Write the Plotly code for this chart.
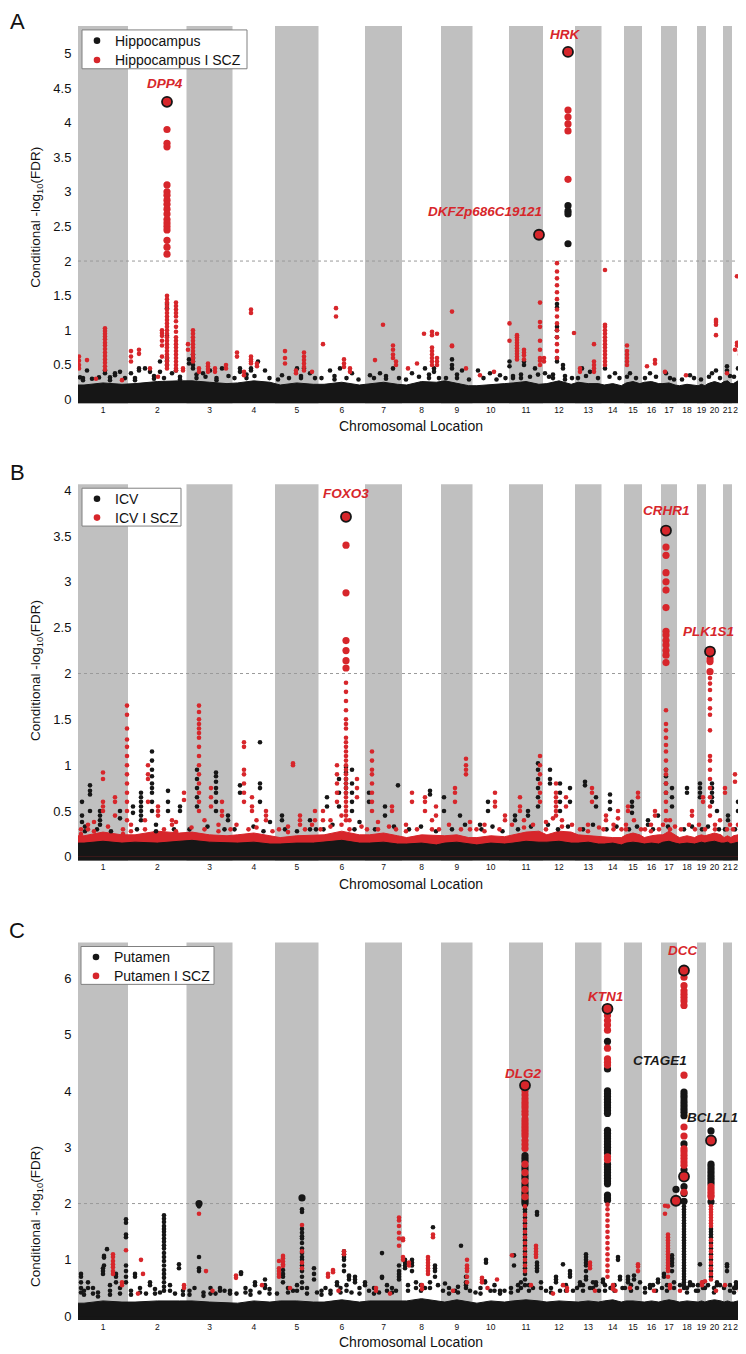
import plotly.graph_objects as go

# ---------------- data ----------------
chromosomes = [str(c) for c in range(1, 23)]
# relative chromosome lengths along the genome axis (index units)
chrom_len = [50, 58.5, 46, 42.5, 43.5, 46.5, 37, 39, 31.5, 36.5, 34, 32,
             26.5, 22.5, 18, 19, 16, 20, 9, 17, 9, 12]
genome_end = 667  # axis end (includes trailing unlabeled segment)

ticks_A = [0, 0.5, 1, 1.5, 2, 2.5, 3, 3.5, 4, 4.5, 5]
ticks_B = [0, 0.5, 1, 1.5, 2, 2.5, 3, 3.5, 4]
ticks_C = [0, 1, 2, 3, 4, 5, 6]

# dense background of non-significant SNPs: height of solid band, 3 samples per chromosome
base_black_A = [0.21, 0.24, 0.22, 0.23, 0.26, 0.27, 0.27, 0.25, 0.23, 0.24, 0.27, 0.25,
                0.21, 0.24, 0.22, 0.22, 0.25, 0.21, 0.23, 0.25, 0.22, 0.21, 0.26, 0.25,
                0.27, 0.23, 0.20, 0.20, 0.22, 0.23, 0.24, 0.26, 0.22, 0.23, 0.27, 0.22,
                0.25, 0.23, 0.23, 0.21, 0.23, 0.20, 0.24, 0.26, 0.23, 0.25, 0.26, 0.23,
                0.23, 0.24, 0.21, 0.20, 0.22, 0.20, 0.20, 0.22, 0.20, 0.23, 0.26, 0.23,
                0.26, 0.27, 0.23, 0.23, 0.27, 0.23]
base_red_B = [0.23, 0.27, 0.24, 0.24, 0.28, 0.26, 0.27, 0.24, 0.23, 0.24, 0.26, 0.23,
              0.21, 0.23, 0.24, 0.24, 0.28, 0.24, 0.24, 0.26, 0.23, 0.21, 0.24, 0.23,
              0.23, 0.24, 0.21, 0.21, 0.23, 0.22, 0.24, 0.27, 0.28, 0.24, 0.28, 0.27,
              0.24, 0.23, 0.22, 0.22, 0.21, 0.21, 0.24, 0.26, 0.24, 0.21, 0.23, 0.24,
              0.24, 0.28, 0.24, 0.21, 0.23, 0.21, 0.23, 0.24, 0.23, 0.24, 0.26, 0.24,
              0.21, 0.23, 0.21, 0.23, 0.24, 0.22]
base_black_B = [0.15, 0.17, 0.15, 0.16, 0.15, 0.17, 0.18, 0.16, 0.15, 0.15, 0.16, 0.14,
                0.14, 0.15, 0.15, 0.16, 0.18, 0.15, 0.15, 0.16, 0.14, 0.14, 0.15, 0.13,
                0.15, 0.16, 0.14, 0.13, 0.15, 0.14, 0.15, 0.17, 0.16, 0.16, 0.17, 0.15,
                0.15, 0.16, 0.14, 0.14, 0.15, 0.13, 0.15, 0.16, 0.15, 0.14, 0.15, 0.14,
                0.16, 0.17, 0.15, 0.14, 0.15, 0.14, 0.15, 0.16, 0.15, 0.16, 0.17, 0.15,
                0.15, 0.16, 0.14, 0.15, 0.16, 0.15]
base_black_C = [0.23, 0.27, 0.25, 0.25, 0.27, 0.27, 0.27, 0.25, 0.23, 0.23, 0.27, 0.25,
                0.27, 0.27, 0.25, 0.25, 0.29, 0.25, 0.27, 0.27, 0.27, 0.27, 0.31, 0.27,
                0.25, 0.29, 0.25, 0.23, 0.27, 0.25, 0.27, 0.29, 0.27, 0.25, 0.27, 0.25,
                0.25, 0.27, 0.25, 0.27, 0.29, 0.25, 0.27, 0.27, 0.25, 0.25, 0.27, 0.25,
                0.27, 0.29, 0.27, 0.25, 0.27, 0.25, 0.25, 0.27, 0.25, 0.27, 0.29, 0.27,
                0.25, 0.27, 0.25, 0.25, 0.27, 0.25]

# SNP columns: (chromosome, position within chromosome, [conditional -log10 FDR values])
red_A = [
    (1, 1, [0.62, 0.56, 0.5, 0.45]), (1, 9, [0.57]), (1, 18, [0.3]),
    (1, 27, [1.03, 0.99, 0.95, 0.91, 0.87, 0.82, 0.78, 0.73, 0.68, 0.63, 0.58, 0.53, 0.48, 0.43]),
    (1, 44, [0.28]),
    (2, 3, [0.7, 0.62, 0.55]), (2, 11, [0.72, 0.66]), (2, 22, [0.45]), (2, 30, [0.33]),
    (2, 34, [1.0, 0.96, 0.92, 0.85, 0.78, 0.62]),
    (2, 39, [3.9, 3.7, 3.65, 3.1, 3.0, 2.95, 2.88, 2.82, 2.75, 2.68, 2.6, 2.55, 2.5, 2.45, 2.3,
             2.2, 2.1, 1.5, 1.45, 1.4, 1.35, 1.3, 1.25, 1.2, 1.15, 1.1, 1.05, 1.0, 0.95, 0.9,
             0.85, 0.8, 0.75, 0.7, 0.65, 0.6, 0.55, 0.5, 0.45]),
    (2, 48, [1.4, 1.35, 1.3, 1.25, 1.2, 1.13, 1.05, 0.98, 0.9, 0.85, 0.8, 0.75, 0.7, 0.65,
             0.6, 0.55, 0.5, 0.45, 0.42]),
    (2, 55, [0.45, 0.42]),
    (3, 1.5, [0.8, 0.72]), (3, 6.5, [1.0, 0.95, 0.9, 0.85, 0.8, 0.75, 0.7, 0.65, 0.6, 0.55]),
    (3, 12.5, [0.45, 0.4]), (3, 21.5, [0.52, 0.48, 0.44, 0.4]), (3, 28.5, [0.45, 0.4]),
    (3, 39.5, [0.5, 0.45]),
    (4, 4.5, [0.68, 0.62]), (4, 11.5, [0.4, 0.35]), (4, 18.5, [1.3, 1.25, 0.62, 0.58, 0.55, 0.52]),
    (4, 24.5, [0.52, 0.48]),
    (5, 10, [0.7, 0.6, 0.52]), (5, 21, [0.42, 0.38]), (5, 29, [0.68, 0.62, 0.57, 0.52, 0.47, 0.42]),
    (5, 37, [0.4]),
    (6, 4.5, [0.8]), (6, 17.5, [1.32, 1.2]), (6, 25.5, [0.58, 0.52, 0.47]), (6, 31.5, [0.45, 0.4]),
    (7, 10, [0.57]), (7, 18, [1.08]), (7, 28, [0.78, 0.72, 0.65, 0.6]), (7, 31, [0.55, 0.5]),
    (8, 6, [0.45]), (8, 15, [0.52]), (8, 22, [0.95]),
    (8, 30, [0.98, 0.93, 0.75, 0.7, 0.65, 0.6, 0.55, 0.5]), (8, 35, [0.95, 0.6, 0.55, 0.5]),
    (9, 11, [1.27, 0.78, 0.77]), (9, 25, [0.45]),
    (10, 7.5, [0.35]), (10, 21.5, [0.4]),
    (11, 0.5, [1.1, 0.85]), (11, 8, [0.93, 0.9, 0.86, 0.82, 0.78, 0.74, 0.7, 0.66, 0.62, 0.58]),
    (11, 15, [0.72, 0.68, 0.64, 0.58]), (11, 31, [1.4, 1.12, 1.05, 0.85, 0.72, 0.6, 0.56, 0.5]),
    (12, 1, [0.6, 0.55]),
    (12, 14, [1.97, 1.85, 1.75, 1.65, 1.55, 1.45, 1.3, 1.2, 1.1, 1.0, 0.9, 0.8, 0.7, 0.6]),
    (12, 25, [4.18, 4.08, 3.98, 3.88, 3.18]), (12, 31, [0.96]),
    (13, 5, [0.45, 0.4]), (13, 19, [0.8, 0.55, 0.5, 0.45, 0.4]),
    (14, 3.5, [1.87, 1.08, 1.05, 1.0, 0.95, 0.9, 0.85, 0.8, 0.75, 0.7, 0.65, 0.6, 0.55, 0.5]),
    (15, 3, [0.78, 0.7, 0.65, 0.6, 0.55, 0.5]),
    (16, 5, [0.48]), (16, 13, [0.57, 0.52]), (17, 4, [0.4]), (18, 9, [0.35]),
    (20, 10, [1.15, 1.12, 1.08, 0.93]), (21, 4, [0.38]),
    (22, 3, [0.72]), (22, 5, [1.78, 0.82, 0.78]), (22, 8, [0.76, 0.7, 0.65]),
]
black_A = [
    (1, 2, [0.32]), (1, 9, [0.42]), (1, 21, [0.32]), (1, 27, [0.42, 0.38]), (1, 37, [0.38, 0.35]),
    (1, 42, [0.4]),
    (2, 3, [0.38]), (2, 11, [0.45, 0.42]), (2, 17, [0.45]), (2, 22, [0.4]), (2, 32, [0.55, 0.4]),
    (2, 39, [1.38, 1.32, 0.92, 0.6, 0.56, 0.5]), (2, 44, [0.38]), (2, 48, [0.42]),
    (3, 2.5, [0.58, 0.52]), (3, 6.5, [0.65, 0.6, 0.55, 0.5, 0.45]), (3, 16.5, [0.38]),
    (3, 23.5, [0.42]), (3, 35.5, [0.45]),
    (4, 7.5, [0.45, 0.4]), (4, 18.5, [0.45, 0.42]), (4, 25.5, [0.55]), (4, 32.5, [0.42]),
    (5, 7, [0.35]), (5, 22, [0.45]), (5, 29, [0.45]), (5, 35, [0.38]),
    (6, 11.5, [0.42]), (6, 21.5, [0.45]), (6, 33.5, [0.38]),
    (7, 5, [0.35]), (7, 15, [0.38]), (7, 28, [0.45]),
    (8, 10, [0.38]), (8, 23, [0.45]), (8, 32, [0.45, 0.4]),
    (9, 11, [0.58, 0.5, 0.45]), (9, 21, [0.42]),
    (10, 5.5, [0.42]), (10, 17.5, [0.38]), (10, 27.5, [0.35]),
    (11, 0.5, [0.55, 0.48]), (11, 15, [0.55, 0.5]), (11, 26, [0.45]),
    (12, 2, [0.38]), (12, 14, [1.38, 1.33, 1.05, 1.0, 0.9, 0.6, 0.55]), (12, 20, [0.5, 0.45]),
    (12, 25, [2.8, 2.72, 2.68, 2.25]),
    (13, 7, [0.45]), (13, 15, [0.4]), (14, 3.5, [0.45]), (14, 13.5, [0.38]),
    (15, 6, [0.38]), (16, 8, [0.38]), (17, 5, [0.38]), (18, 13, [0.35]),
    (20, 6, [0.38]), (20, 10, [0.42]), (21, 4, [0.48, 0.42]), (22, 6, [0.45]),
    # low-level scatter just above the dense band
    (1, 5, [0.31, 0.28]), (1, 14, [0.3]), (1, 32, [0.32, 0.28]), (1, 47, [0.31]),
    (2, 7, [0.31, 0.28]), (2, 26, [0.34, 0.3]), (2, 36, [0.31]), (2, 52, [0.33, 0.29]),
    (3, 10, [0.36, 0.31]), (3, 19, [0.33]), (3, 30, [0.31, 0.28]), (3, 42, [0.34]),
    (4, 2, [0.31]), (4, 14, [0.36, 0.31]), (4, 22, [0.34]), (4, 37, [0.31]),
    (5, 3, [0.29]), (5, 14, [0.31]), (5, 26, [0.34, 0.31]), (5, 40, [0.31]),
    (6, 3, [0.31]), (6, 16, [0.34, 0.29]), (6, 28, [0.31]), (6, 40, [0.29]),
    (7, 9, [0.31]), (7, 21, [0.34, 0.3]), (7, 34, [0.31]),
    (8, 4, [0.29]), (8, 17, [0.33]), (8, 27, [0.36, 0.31]), (8, 37, [0.31]),
    (9, 5, [0.31]), (9, 16, [0.36, 0.31]), (9, 28, [0.29]),
    (10, 11, [0.31]), (10, 24, [0.29]), (10, 33, [0.31]),
    (11, 4, [0.34, 0.31]), (11, 12, [0.36, 0.31]), (11, 21, [0.33]), (11, 29, [0.36]),
    (12, 6, [0.33]), (12, 10, [0.36, 0.31]), (12, 22, [0.34, 0.29]), (12, 29, [0.31]),
    (13, 3, [0.31]), (13, 11, [0.34]), (13, 23, [0.31]),
    (14, 8, [0.33]), (14, 18, [0.31]),
    (15, 3, [0.33]), (15, 12, [0.31]), (16, 3, [0.31]), (16, 14, [0.33]), (17, 9, [0.31]),
    (17, 13, [0.29]), (18, 5, [0.29]), (18, 17, [0.31]), (19, 4, [0.29]), (20, 3, [0.33]),
    (20, 14, [0.31]), (21, 7, [0.34]), (22, 2, [0.33]), (22, 9, [0.36]),
]
lead_A = [("DPP4", 2, 39, 4.30), ("DKFZp686C19121", 11, 30, 2.38), ("HRK", 12, 25, 5.02)]

red_B = [
    (1, 10, [0.35, 0.3]), (1, 25, [0.92, 0.85, 0.6, 0.55, 0.5]), (1, 37, [0.65, 0.6, 0.45]),
    (1, 49, [1.65, 1.55, 1.4, 1.28, 1.2, 1.1, 1.0, 0.9, 0.8, 0.7, 0.6, 0.5, 0.4]),
    (2, 20, [1.0, 0.9, 0.85, 0.6]), (2, 30, [0.55, 0.5, 0.45]), (2, 44, [0.4, 0.35]),
    (2, 56, [0.7, 0.62]),
    (3, 12.5, [1.65, 1.58, 1.5, 1.45, 1.4, 1.35, 1.3, 1.2, 1.1, 1.0, 0.9, 0.8, 0.7, 0.6, 0.5]),
    (3, 24.5, [0.75, 0.65, 0.55]), (3, 35.5, [0.6, 0.5, 0.45]),
    (4, 11.5, [1.25, 1.2, 0.95, 0.9, 0.8, 0.7, 0.6]), (4, 19.5, [0.65, 0.55, 0.5]),
    (4, 33.5, [0.5, 0.45, 0.4]),
    (5, 18, [1.02, 1.0]), (5, 25, [0.45, 0.4, 0.35]), (5, 40, [0.5, 0.4]),
    (6, 4.5, [0.5, 0.4]), (6, 18.5, [1.0, 0.9, 0.8, 0.7, 0.6]),
    (6, 27.5, [3.4, 2.88, 2.36, 2.25, 2.14, 2.06, 1.9, 1.8, 1.7, 1.6, 1.5, 1.45, 1.4, 1.3, 1.25,
               1.2, 1.15, 1.1, 1.05, 1.0, 0.95, 0.9, 0.85, 0.8, 0.75, 0.7, 0.65, 0.6, 0.55, 0.5,
               0.45, 0.4]),
    (6, 38.5, [0.85, 0.75, 0.65]),
    (7, 7, [1.15, 1.05, 0.95, 0.9, 0.8, 0.7, 0.6, 0.5]), (7, 27, [0.55, 0.5]),
    (8, 10, [0.7, 0.6]), (8, 23, [0.65, 0.6, 0.5]), (8, 34, [0.55, 0.45]),
    (9, 14, [0.75, 0.7, 0.6]), (9, 25, [1.07, 1.0, 0.95, 0.9]),
    (10, 22.5, [0.7, 0.6, 0.55]), (10, 32.5, [0.45, 0.4]),
    (11, 11, [0.65, 0.55, 0.5]), (11, 31, [1.1, 1.0, 0.9, 0.8, 0.7, 0.6]),
    (12, 13, [0.8, 0.7, 0.65, 0.6, 0.55, 0.5, 0.45]), (12, 23, [0.65, 0.55]),
    (13, 17, [0.75, 0.7, 0.6]), (14, 4.5, [0.45, 0.4]), (14, 16.5, [0.5, 0.42]),
    (15, 4, [0.55, 0.5]), (15, 14, [0.7, 0.65]), (16, 13, [0.5, 0.45]),
    (17, 5, [3.38, 3.29, 3.1, 3.0, 2.91, 2.72, 2.46, 2.42, 2.36, 2.31, 2.25, 2.2, 2.12, 1.6, 1.45,
             1.38, 1.3, 1.22, 1.15, 1.05, 0.95, 0.9, 0.8, 0.7, 0.6, 0.5, 0.4]),
    (18, 15, [0.5, 0.45]), (19, 6, [0.65, 0.6]),
    (20, 4, [2.16, 2.13, 2.02, 1.95, 1.89, 1.82, 1.72, 1.62, 1.55, 1.38, 1.1, 1.05, 0.95, 0.85,
             0.75, 0.65, 0.55, 0.45]),
    (21, 2, [0.75, 0.7]), (22, 3, [0.9, 0.82]), (22, 9, [0.45, 0.4]),
    # low-level scatter
    (1, 3, [0.3, 0.25]), (1, 16, [0.38, 0.28]), (1, 30, [0.33]), (1, 45, [0.3, 0.25]),
    (2, 3, [0.35, 0.28]), (2, 17, [0.4, 0.3]), (2, 36, [0.3]), (2, 48, [0.38, 0.28]),
    (3, 5, [0.32]), (3, 18, [0.4, 0.3]), (3, 32, [0.35, 0.28]), (3, 44, [0.3]),
    (4, 4, [0.35]), (4, 16, [0.3]), (4, 24, [0.4, 0.32]), (4, 40, [0.28]),
    (5, 4, [0.3]), (5, 13, [0.33, 0.27]), (5, 30, [0.3]), (5, 37, [0.35]),
    (6, 2, [0.3]), (6, 12, [0.4, 0.33]), (6, 23, [0.45, 0.35]), (6, 31, [0.4, 0.3]), (6, 43, [0.33]),
    (7, 2, [0.3]), (7, 13, [0.38, 0.3]), (7, 24, [0.33]), (7, 31, [0.3]),
    (8, 4, [0.35, 0.28]), (8, 15, [0.3]), (8, 30, [0.4, 0.3]), (8, 37, [0.3]),
    (9, 8, [0.35]), (9, 20, [0.3]), (9, 29, [0.38, 0.3]),
    (10, 4, [0.3]), (10, 12, [0.35, 0.28]), (10, 27, [0.3]),
    (11, 3, [0.35]), (11, 15, [0.4, 0.32]), (11, 24, [0.35]),
    (12, 3, [0.38, 0.3]), (12, 10, [0.42]), (12, 19, [0.4, 0.33]), (12, 29, [0.35]),
    (13, 5, [0.3]), (13, 13, [0.35, 0.28]), (13, 24, [0.32]),
    (14, 2, [0.3]), (14, 12, [0.35, 0.3]), (14, 20, [0.3]),
    (15, 2, [0.35, 0.3]), (15, 10, [0.4]), (15, 17, [0.3]),
    (16, 3, [0.3]), (16, 9, [0.35, 0.28]), (16, 17, [0.3]),
    (17, 2, [0.35]), (17, 9, [0.4, 0.3]), (17, 14, [0.33]),
    (18, 4, [0.3]), (18, 12, [0.35]), (18, 18, [0.3]),
    (19, 2, [0.35]), (19, 8, [0.3]), (20, 9, [0.35, 0.3]), (20, 14, [0.4]),
    (21, 4, [0.3]), (21, 7, [0.35]), (22, 1, [0.3]), (22, 6, [0.35]), (22, 10, [0.3]),
]
black_B = [
    (1, 4, [0.6, 0.45, 0.38]), (1, 12, [0.78, 0.72, 0.68, 0.5]), (1, 22, [0.5, 0.45, 0.4, 0.35]),
    (1, 42, [0.5, 0.42]),
    (2, 5, [0.55, 0.48]), (2, 13, [0.7, 0.65, 0.6, 0.55, 0.5, 0.45, 0.4]),
    (2, 24, [1.15, 1.05, 0.95, 0.88, 0.8, 0.75, 0.7, 0.6, 0.5]), (2, 40, [0.72, 0.6, 0.5]),
    (2, 52, [0.55, 0.5]),
    (3, 10.5, [0.95, 0.85, 0.75, 0.65, 0.55]), (3, 29.5, [0.92, 0.88, 0.82, 0.75, 0.7, 0.6, 0.5]),
    (3, 41.5, [0.45, 0.4]),
    (4, 7.5, [0.78, 0.7]), (4, 27.5, [1.25, 0.8, 0.75, 0.6]), (4, 37.5, [0.38]),
    (5, 7, [0.45, 0.4]), (5, 35, [0.4, 0.3]),
    (6, 8.5, [0.65, 0.55]), (6, 20.5, [0.85, 0.7, 0.55]), (6, 27.5, [0.98, 0.92, 0.85, 0.8, 0.75, 0.7]),
    (6, 33.5, [0.95, 0.8, 0.7, 0.6, 0.5]),
    (7, 4, [0.7, 0.6]), (7, 20, [0.55, 0.45]), (7, 33, [0.78]),
    (8, 28, [0.72, 0.68]), (9, 3, [0.65, 0.5]), (9, 19, [0.45]),
    (10, 7.5, [0.35]), (10, 15.5, [0.6, 0.5]),
    (11, 6, [0.45, 0.4]), (11, 19, [0.5, 0.45]), (11, 29, [1.02, 0.95, 0.85, 0.75, 0.65, 0.55]),
    (12, 7, [0.95, 0.85, 0.8]), (12, 17, [0.8, 0.7, 0.6, 0.5]), (12, 27, [0.75, 0.6]),
    (13, 10, [0.82, 0.78]), (13, 21, [0.65, 0.55]), (14, 8.5, [0.68, 0.6, 0.52]),
    (15, 8, [0.6, 0.55, 0.48]), (16, 6, [0.4, 0.35]), (16, 16, [0.45]),
    (17, 5, [0.95, 0.88, 0.8, 0.7]), (17, 11, [0.75, 0.65, 0.55]),
    (18, 10, [0.75, 0.7]), (19, 3, [0.8, 0.75, 0.7, 0.65]),
    (20, 6, [0.8, 0.75, 0.7, 0.65, 0.6]), (20, 11, [0.5]),
    (21, 5, [0.45, 0.4]), (22, 6, [0.6, 0.5]),
    # low-level scatter
    (1, 7, [0.33, 0.28]), (1, 19, [0.3]), (1, 33, [0.28]),
    (2, 9, [0.3]), (2, 28, [0.35, 0.28]), (2, 46, [0.3]),
    (3, 3, [0.3]), (3, 21, [0.33]), (3, 38, [0.3]),
    (4, 2, [0.3]), (4, 21, [0.33]), (4, 31, [0.28]),
    (5, 10, [0.3]), (5, 22, [0.28]), (5, 41, [0.3]),
    (6, 5, [0.3]), (6, 14, [0.35]), (6, 36, [0.3]), (6, 41, [0.38]),
    (7, 10, [0.3]), (7, 29, [0.33]),
    (8, 7, [0.3]), (8, 19, [0.33]), (8, 34, [0.28]),
    (9, 11, [0.3]), (9, 24, [0.35]),
    (10, 9, [0.3]), (10, 20, [0.33]), (10, 30, [0.28]),
    (11, 9, [0.3]), (11, 22, [0.33]),
    (12, 5, [0.35]), (12, 15, [0.3]), (12, 25, [0.33]),
    (13, 8, [0.3]), (13, 18, [0.35]), (14, 5, [0.3]), (14, 15, [0.33]),
    (15, 5, [0.3]), (15, 13, [0.33]), (16, 11, [0.3]), (17, 7, [0.33]), (18, 7, [0.3]),
    (18, 15, [0.33]), (19, 5, [0.3]), (20, 2, [0.33]), (20, 13, [0.3]), (21, 2, [0.3]),
    (22, 3, [0.3]), (22, 8, [0.33]),
]
lead_B = [("FOXO3", 6, 27.5, 3.71), ("CRHR1", 17, 5, 3.56), ("PLK1S1", 20, 4, 2.24)]

red_C = [
    (1, 35, [1.1, 1.05, 0.98, 0.92, 0.87, 0.8, 0.75]), (1, 44, [0.6, 0.55]), (1, 48, [1.17]),
    (2, 13, [1.0]), (2, 15, [0.75]), (2, 56, [0.55, 0.5]),
    (3, 12.5, [1.82]), (3, 19.5, [0.8]),
    (4, 3.5, [0.72, 0.68]), (4, 29.5, [0.55]),
    (5, 4, [0.98, 0.85, 0.8, 0.75, 0.7]), (5, 8, [1.07, 1.03, 0.97, 0.92, 0.89]),
    (5, 27, [1.62, 1.15, 0.95, 0.85]),
    (6, 9.5, [0.75, 0.7]), (6, 14.5, [0.82, 0.78]), (6, 25.5, [1.15, 1.1]),
    (7, 11, [0.5, 0.45]), (7, 34, [1.75, 1.7, 1.6, 1.48, 1.38, 1.25]),
    (8, 1, [1.38, 1.35, 1.05, 1.0]), (8, 7, [0.95, 0.9]),
    (8, 26, [1.05, 1.0, 0.95, 0.9, 0.85, 0.8, 0.75]), (8, 31, [1.45, 1.4]),
    (9, 26, [1.0, 0.9, 0.85, 0.8, 0.7, 0.6]),
    (10, 9.5, [0.68, 0.65, 0.6]), (10, 24.5, [0.65]),
    (11, 3, [1.08]),
    (11, 16, [4.0, 3.93, 3.86, 3.8, 3.75, 3.7, 3.64, 3.58, 3.5, 3.45, 3.4, 3.35, 3.3, 3.25, 3.2,
              3.12, 3.05, 2.98, 2.7, 2.55, 2.4, 2.25, 2.12, 1.95, 1.8, 1.7, 1.6, 1.5, 1.4, 1.3,
              1.2, 1.1, 1.0, 0.9, 0.8]),
    (11, 27, [1.25, 1.2, 1.15, 1.1, 1.05]),
    (12, 20, [0.55]), (12, 24, [0.5, 0.45]), (13, 15, [0.95, 0.9, 0.85]),
    (14, 6, [5.34, 5.25, 5.17, 5.08, 4.76, 4.57, 4.51, 4.46, 2.83, 2.78, 1.98, 1.9, 1.8, 1.7,
             1.6, 1.5, 1.4, 1.3, 1.2, 1.1, 1.0, 0.9, 0.8, 0.7]),
    (14, 11.5, [0.55, 0.5, 0.48]), (15, 14, [0.92, 0.88, 0.8]), (16, 12, [0.45]),
    (17, 4, [1.96, 1.82]),
    (17, 7, [1.95, 1.45, 1.4, 1.35, 1.3, 1.25, 1.2, 1.15, 1.1, 1.05, 1.0, 0.95, 0.9, 0.85, 0.8, 0.7]),
    (18, 3, [0.45]),
    (18, 7, [6.02, 5.87, 5.78, 5.72, 5.66, 5.6, 5.52, 4.28, 3.36, 3.2, 2.97, 2.92, 2.86, 2.8,
             2.74, 2.68, 2.2]),
    (19, 5, [0.6, 0.55]), (19, 8, [0.62]),
    (20, 5, [2.3, 2.25, 2.2, 2.15, 2.12, 1.95, 1.9, 1.85, 1.8, 1.75, 1.7, 1.65, 1.6, 1.35, 1.25,
             1.15, 1.05, 0.95, 0.85, 0.75, 0.65]),
    (21, 2, [0.55]), (22, 8, [0.45]),
    # low-level scatter
    (2, 10, [0.4]), (3, 26, [0.45]), (5, 15, [0.5]), (6, 20, [0.45]), (7, 25, [0.4]),
    (8, 20, [0.55, 0.48]), (9, 12, [0.45]), (10, 15, [0.5]), (11, 22, [0.55]), (12, 10, [0.4]),
    (13, 20, [0.45]), (14, 14, [0.45]), (15, 6, [0.5]), (17, 9, [0.55, 0.5]), (20, 10, [0.45]),
]
black_C = [
    (1, 3, [0.75, 0.7, 0.6, 0.5, 0.42]), (1, 10, [0.6, 0.5]), (1, 25, [0.85, 0.8, 0.75]),
    (1, 26, [1.07, 1.04, 0.9]), (1, 29, [1.19]), (1, 38, [0.75, 0.7, 0.6]),
    (1, 48, [1.72, 1.66, 1.45, 1.4, 0.9, 0.8, 0.7, 0.6]),
    (2, 7, [0.75, 0.7]), (2, 22, [0.6, 0.55]),
    (2, 36, [1.79, 1.73, 1.67, 1.6, 1.55, 1.5, 1.44, 1.38, 1.32, 1.26, 1.2, 1.12, 1.05, 0.98,
             0.9, 0.82, 0.75, 0.68, 0.6, 0.52, 0.45]),
    (2, 51, [0.92, 0.85]),
    (3, 12.5, [2.0, 1.95, 1.05, 0.85, 0.8]), (3, 33.5, [0.5, 0.45]), (3, 43.5, [0.45, 0.4]),
    (4, 8.5, [0.78, 0.75]), (4, 22.5, [0.6, 0.55]), (4, 32.5, [0.65, 0.55, 0.5]),
    (5, 8, [0.82, 0.75, 0.7, 0.6]),
    (5, 27, [2.1, 1.9, 1.85, 1.55, 1.48, 1.42, 1.38, 1.3, 1.2, 1.12, 1.05, 1.0, 0.9, 0.8, 0.7,
             0.6, 0.5]),
    (5, 39, [0.85, 0.75, 0.65]),
    (6, 18.5, [0.6, 0.55]), (6, 25.5, [1.15, 1.1, 1.05, 1.0, 0.9, 0.8]), (6, 30.5, [0.72, 0.7, 0.65]),
    (6, 36.5, [0.7, 0.65, 0.6]),
    (7, 0, [0.6, 0.55]), (7, 17, [1.12, 0.7, 0.68]), (7, 34, [0.9, 0.8, 0.75, 0.7, 0.65]),
    (8, 3, [1.0, 0.95, 0.9, 0.85]), (8, 10, [1.0, 0.95, 0.9, 0.8]), (8, 31, [1.58]),
    (8, 33, [0.9, 0.85, 0.8, 0.7]),
    (9, 4, [0.58]), (9, 20, [1.25]), (9, 25, [0.7, 0.6, 0.55, 0.5]),
    (10, 12.5, [0.62, 0.6]), (10, 13.5, [1.0, 0.95]), (10, 27.5, [0.45, 0.4]),
    (11, 5, [1.08, 0.9]),
    (11, 16, [2.85, 2.8, 2.75, 2.65, 2.6, 2.5, 2.45, 2.35, 2.3, 2.2, 2.15, 2.08, 2.04, 2.0, 1.9,
              1.85, 1.75, 1.65, 1.55, 1.45, 1.35, 1.25, 1.15, 1.05, 0.95, 0.85, 0.75, 0.65, 0.55]),
    (11, 28, [1.85, 1.8, 0.95, 0.9, 0.85, 0.8]), (11, 32, [0.6, 0.5]),
    (12, 13, [0.7, 0.65, 0.6]), (12, 20, [0.92]), (12, 27, [0.8, 0.75, 0.7]),
    (13, 5, [0.6, 0.55]), (13, 11, [1.1, 1.05, 1.0, 0.95, 0.9, 0.8, 0.7, 0.65]), (13, 21, [0.6, 0.55]),
    (14, 1.5, [0.65, 0.6]),
    (14, 6, [4.88, 4.39, 4.0, 3.95, 3.9, 3.85, 3.8, 3.75, 3.7, 3.65, 3.6, 3.3, 3.25, 3.2, 3.15,
             3.1, 3.05, 3.0, 2.95, 2.9, 2.7, 2.65, 2.6, 2.55, 2.5, 2.45, 2.4, 2.35, 2.15, 2.1, 2.06]),
    (14, 16.5, [1.05, 1.0]), (14, 18.5, [0.7, 0.65]),
    (15, 4, [0.7, 0.65, 0.6]), (15, 10, [0.72, 0.65]), (15, 16, [0.6]),
    (16, 8, [0.55, 0.5]), (16, 16, [0.65, 0.6]),
    (17, 3, [0.75, 0.7]), (17, 11, [1.08, 1.03, 1.0, 0.95, 0.9, 0.8]), (17, 15, [2.25]),
    (18, 7, [3.98, 3.93, 3.88, 3.82, 3.77, 3.72, 3.67, 3.62, 3.56, 3.06, 2.6, 2.3, 2.18, 2.04,
             1.95, 1.9, 1.85, 1.8, 1.75, 1.7, 1.65, 1.6, 1.55, 1.5, 1.45, 1.4, 1.35, 1.3, 1.25,
             1.2, 1.15, 1.1, 1.05, 1.0, 0.95, 0.9, 0.85, 0.8, 0.75, 0.7, 0.65, 0.6, 0.55, 0.5]),
    (18, 13, [0.6, 0.55]), (19, 3, [0.92]), (19, 6, [0.6, 0.5]),
    (20, 5, [3.29, 2.7, 2.65, 2.6, 2.55, 2.5, 2.45, 2.4, 2.35, 2.03, 1.55, 1.5, 1.45, 1.4, 1.3,
             1.2, 1.1, 1.0, 0.9, 0.8, 0.7]),
    (20, 11, [0.6, 0.55]), (21, 4, [0.92, 0.88, 0.8]), (22, 4, [0.6, 0.55, 0.5]),
    # low-level scatter
    (1, 6, [0.45, 0.38]), (1, 15, [0.5, 0.4]), (1, 20, [0.42, 0.35]), (1, 32, [0.55, 0.45, 0.38]),
    (1, 42, [0.5, 0.4]),
    (2, 3, [0.45, 0.38]), (2, 12, [0.5, 0.42]), (2, 18, [0.4]), (2, 27, [0.48, 0.4]), (2, 32, [0.42]),
    (2, 42, [0.55, 0.45]), (2, 47, [0.4]), (2, 55, [0.45, 0.38]),
    (3, 3, [0.45, 0.38]), (3, 8, [0.5]), (3, 17, [0.42, 0.36]), (3, 24, [0.5, 0.4]), (3, 29, [0.4]),
    (3, 38, [0.45]),
    (4, 4, [0.4]), (4, 13, [0.5, 0.42]), (4, 18, [0.45, 0.38]), (4, 27, [0.42]), (4, 37, [0.48, 0.4]),
    (5, 2, [0.4]), (5, 13, [0.5, 0.42]), (5, 18, [0.45]), (5, 22, [0.55, 0.45]), (5, 32, [0.5, 0.4]),
    (5, 42, [0.42]),
    (6, 3, [0.45, 0.38]), (6, 7, [0.5]), (6, 12, [0.45, 0.4]), (6, 22, [0.5, 0.42]),
    (6, 28, [0.55, 0.45]), (6, 33, [0.42]), (6, 41, [0.5, 0.4]),
    (7, 4, [0.45]), (7, 9, [0.5, 0.4]), (7, 14, [0.42]), (7, 22, [0.55, 0.45]), (7, 27, [0.5, 0.42]),
    (7, 31, [0.45]),
    (8, 6, [0.55, 0.45]), (8, 14, [0.6, 0.5]), (8, 19, [0.55, 0.45]), (8, 23, [0.5]),
    (8, 28, [0.6, 0.5]), (8, 36, [0.55]),
    (9, 2, [0.45]), (9, 8, [0.5, 0.4]), (9, 14, [0.45]), (9, 17, [0.52, 0.42]), (9, 29, [0.45]),
    (10, 3, [0.42]), (10, 8, [0.5, 0.4]), (10, 18, [0.45]), (10, 22, [0.55, 0.45]), (10, 32, [0.45]),
    (11, 2, [0.5, 0.42]), (11, 9, [0.55, 0.45]), (11, 12, [0.6, 0.5]), (11, 20, [0.55, 0.45]),
    (11, 24, [0.5]),
    (12, 3, [0.45]), (12, 8, [0.5, 0.42]), (12, 17, [0.45]), (12, 23, [0.55, 0.45]), (12, 30, [0.45]),
    (13, 2, [0.5]), (13, 8, [0.55, 0.45]), (13, 15, [0.5]), (13, 18, [0.6, 0.5]), (13, 24, [0.45]),
    (14, 3.5, [0.55, 0.45]), (14, 9, [0.5]), (14, 13, [0.55, 0.45]), (14, 21, [0.5]),
    (15, 1, [0.5]), (15, 7, [0.55, 0.45]), (15, 13, [0.5]),
    (16, 3, [0.5, 0.42]), (16, 11, [0.55]), (16, 14, [0.45]),
    (17, 1, [0.5]), (17, 6, [0.55, 0.45]), (17, 13, [0.6, 0.5]),
    (18, 3, [0.55]), (18, 10, [0.5, 0.42]), (18, 16, [0.55]), (18, 19, [0.45]),
    (19, 1, [0.55, 0.45]), (19, 8, [0.5]), (20, 2, [0.55]), (20, 8, [0.5, 0.42]), (20, 14, [0.55]),
    (21, 1, [0.5]), (21, 7, [0.55, 0.45]), (22, 2, [0.5, 0.42]), (22, 7, [0.55]), (22, 10, [0.45]),
]
lead_C = [("DLG2", 11, 16, 4.10), ("KTN1", 14, 6, 5.46), ("DCC", 18, 7, 6.14),
          ("", 17, 15, 2.05), ("CTAGE1", 18, 7, 2.48), ("BCL2L1", 20, 5, 3.12)]

legend_names = {"A": ("Hippocampus", "Hippocampus I SCZ"),
                "B": ("ICV", "ICV I SCZ"),
                "C": ("Putamen", "Putamen I SCZ")}

# ---------------- styling / layout ----------------
OFF = 8                      # page body margin in the browser
W, H = 746 - OFF, 1354 - OFF
RED = "#d7262b"
BLACK = "#161616"
GRAY = "#c0c0c0"
FONT = "Liberation Sans, Arial, Helvetica, sans-serif"
PLOT_L, PLOT_R = 78, 745


def xp(px):
    return (px - OFF) / W


def yp(py):
    return 1 - (py - OFF) / H


# panel pixel geometry (page pixels): top, bottom, pixel of y=0, pixels per unit
panels = {
    "A": dict(top=25, bottom=404, zero=400, ppu=69.5, ax="", legend_box=(82, 29, 247, 68)),
    "B": dict(top=485, bottom=863, zero=859, ppu=92.0, ax="2", legend_box=(82, 489, 181, 527)),
    "C": dict(top=945, bottom=1324, zero=1320, ppu=56.5, ax="3", legend_box=(81, 949, 214, 987)),
}

offsets = []
acc = 0
for L in chrom_len:
    offsets.append(acc)
    acc += L
genome_total = acc
centers = [o + L / 2 for o, L in zip(offsets, chrom_len)]


def gx(chrom, pos):
    return offsets[chrom - 1] + pos


def base_xy(heights):
    xs, ys = [0], [heights[0]]
    for i, (o, L) in enumerate(zip(offsets, chrom_len)):
        for j, f in enumerate((0.12, 0.5, 0.88)):
            xs.append(o + f * L)
            ys.append(heights[3 * i + j])
    xs.append(genome_total)
    ys.append(heights[-1])
    return xs, ys


def col_points(cols):
    xs, ys, ss = [], [], []
    for chrom, pos, vals in cols:
        for v in vals:
            xs.append(gx(chrom, pos))
            ys.append(v)
            ss.append(7.2 if v >= 2 else 4.6)
    return xs, ys, ss


fig = go.Figure()

panel_data = {
    "A": dict(red=red_A, black=black_A, lead=lead_A, base_black=base_black_A, base_red=None),
    "B": dict(red=red_B, black=black_B, lead=lead_B, base_black=base_black_B, base_red=base_red_B),
    "C": dict(red=red_C, black=black_C, lead=lead_C, base_black=base_black_C, base_red=None),
}

shapes = []
annotations = []
layout_axes = {}

for key, geo in panels.items():
    d = panel_data[key]
    ax = geo["ax"]
    xa, ya = "x" + ax, "y" + ax
    # alternating chromosome bands
    for i, (o, L) in enumerate(zip(offsets, chrom_len)):
        if i % 2 == 0:
            shapes.append(dict(type="rect", xref=xa, yref=ya + " domain", x0=o, x1=o + L, y0=0, y1=1,
                               fillcolor=GRAY, line=dict(width=0), layer="below"))
    shapes.append(dict(type="rect", xref=xa, yref=ya + " domain", x0=genome_total, x1=genome_end,
                       y0=0, y1=1, fillcolor=GRAY, line=dict(width=0), layer="below"))
    # significance threshold (FDR 0.01)
    shapes.append(dict(type="line", xref=xa + " domain", yref=ya, x0=0, x1=1, y0=2, y1=2,
                       line=dict(color="#9a9a9a", width=1, dash="dot"), layer="below"))
    # dense strip around zero
    shapes.append(dict(type="line", xref=xa, yref=ya, x0=0, x1=genome_total, y0=0, y1=0,
                       line=dict(color=BLACK, width=8), layer="below"))

    if d["base_red"] is not None:
        bx, by = base_xy(d["base_red"])
        fig.add_trace(go.Scatter(x=bx, y=by, mode="lines", fill="tozeroy", fillcolor=RED,
                                 line=dict(color=RED, width=1), hoverinfo="skip", showlegend=False,
                                 xaxis=xa, yaxis=ya))
    bx, by = base_xy(d["base_black"])
    fig.add_trace(go.Scatter(x=bx, y=by, mode="lines", fill="tozeroy", fillcolor=BLACK,
                             line=dict(color=BLACK, width=1), hoverinfo="skip", showlegend=False,
                             xaxis=xa, yaxis=ya))

    kx, ky, ks = col_points(d["black"])
    fig.add_trace(go.Scatter(x=kx, y=ky, mode="markers",
                             marker=dict(color=BLACK, size=ks, opacity=1, line=dict(width=0)),
                             showlegend=False, xaxis=xa, yaxis=ya, hoverinfo="skip"))
    rx, ry, rs = col_points(d["red"])
    fig.add_trace(go.Scatter(x=rx, y=ry, mode="markers",
                             marker=dict(color=RED, size=rs, opacity=1, line=dict(width=0)),
                             showlegend=False, xaxis=xa, yaxis=ya, hoverinfo="skip"))
    lx = [gx(c, p) for _, c, p, _ in d["lead"]]
    ly = [v for _, _, _, v in d["lead"]]
    fig.add_trace(go.Scatter(x=lx, y=ly, mode="markers",
                             marker=dict(color=RED, size=10, opacity=1, line=dict(color=BLACK, width=1.8)),
                             showlegend=False, xaxis=xa, yaxis=ya, hoverinfo="skip"))

    y0 = (geo["zero"] - geo["bottom"]) / geo["ppu"]
    y1 = (geo["zero"] - geo["top"]) / geo["ppu"]
    ticks = {"A": ticks_A, "B": ticks_B, "C": ticks_C}[key]
    layout_axes["xaxis" + ax] = dict(
        domain=[xp(PLOT_L), xp(PLOT_R)], range=[0, genome_end], anchor=ya,
        showgrid=False, zeroline=False, showline=False, ticks="", tickangle=0,
        tickmode="array", tickvals=centers, ticktext=chromosomes,
        tickfont=dict(size=8.5, color="#111", family=FONT), fixedrange=True)
    layout_axes["yaxis" + ax] = dict(
        domain=[yp(geo["bottom"]), yp(geo["top"])], range=[y0, y1], anchor=xa,
        showgrid=False, zeroline=False, showline=False, ticks="outside", ticklen=3,
        tickcolor="rgba(0,0,0,0)", tickmode="array", tickvals=ticks,
        ticktext=[("%g" % t) for t in ticks],
        tickfont=dict(size=13, color="#111", family=FONT), fixedrange=True)

    # legend box drawn as a framed key
    bx0, by0, bx1, by1 = geo["legend_box"]
    shapes.append(dict(type="rect", xref="paper", yref="paper", x0=xp(bx0), x1=xp(bx1),
                       y0=yp(by1), y1=yp(by0), fillcolor="white",
                       line=dict(color="#808080", width=1), layer="above"))
    row_h = (by1 - by0) / 2
    for k, (name, col) in enumerate(zip(legend_names[key], (BLACK, RED))):
        cy = by0 + row_h * (k + 0.5) + 1
        r = 3.3
        shapes.append(dict(type="circle", xref="paper", yref="paper",
                           x0=xp(bx0 + 15 - r), x1=xp(bx0 + 15 + r), y0=yp(cy + r), y1=yp(cy - r),
                           fillcolor=col, line=dict(width=0), layer="above"))
        annotations.append(dict(text=name, x=xp(bx0 + 31), y=yp(cy), xref="paper", yref="paper",
                                xanchor="left", yanchor="middle", showarrow=False,
                                font=dict(size=14, color="#111", family=FONT)))

# panel letters, axis titles
for letter, ypx in (("A", 21), ("B", 473), ("C", 933)):
    annotations.append(dict(text=letter, x=xp(17), y=yp(ypx), xref="paper", yref="paper",
                            xanchor="center", yanchor="middle", showarrow=False,
                            font=dict(size=22, color="#111", family=FONT)))
for ypx in (217, 672, 1220):
    annotations.append(dict(text="Conditional -log<sub>10</sub>(FDR)", x=xp(36.5), y=yp(ypx),
                            xref="paper", yref="paper", xanchor="center", yanchor="middle",
                            showarrow=False, textangle=-90,
                            font=dict(size=13.5, color="#111", family=FONT)))
for ypx in (427, 886, 1346):
    annotations.append(dict(text="Chromosomal Location", x=xp(PLOT_L + 333), y=yp(ypx),
                            xref="paper", yref="paper", xanchor="center", yanchor="middle",
                            showarrow=False, font=dict(size=14, color="#111", family=FONT)))

# gene labels (text centre positions in data units)
gene_labels = [
    ("DPP4", "", 87, 4.56, RED), ("HRK", "", 487, 5.27, RED), ("DKFZp686C19121", "", 407, 2.72, RED),
    ("FOXO3", "2", 268, 3.96, RED), ("CRHR1", "2", 588, 3.78, RED), ("PLK1S1", "2", 630, 2.46, RED),
    ("DLG2", "3", 445, 4.31, RED), ("KTN1", "3", 527, 5.68, RED), ("DCC", "3", 604, 6.5, RED),
    ("CTAGE1", "3", 582, 4.55, "#1a1a1a"), ("BCL2L1", "3", 634, 3.52, "#1a1a1a"),
]
for txt, ax, x, y, col in gene_labels:
    annotations.append(dict(text="<b><i>%s</i></b>" % txt, x=x, y=y, xref="x" + ax, yref="y" + ax,
                            xanchor="center", yanchor="middle",
                            showarrow=False, font=dict(size=13.5, color=col, family=FONT)))

fig.update_layout(
    width=W, height=H, margin=dict(l=0, r=0, t=0, b=0),
    paper_bgcolor="white", plot_bgcolor="white",
    shapes=shapes, annotations=annotations, showlegend=False,
    font=dict(family=FONT, color="#111"),
    **layout_axes,
)

fig.write_html("out.html")
